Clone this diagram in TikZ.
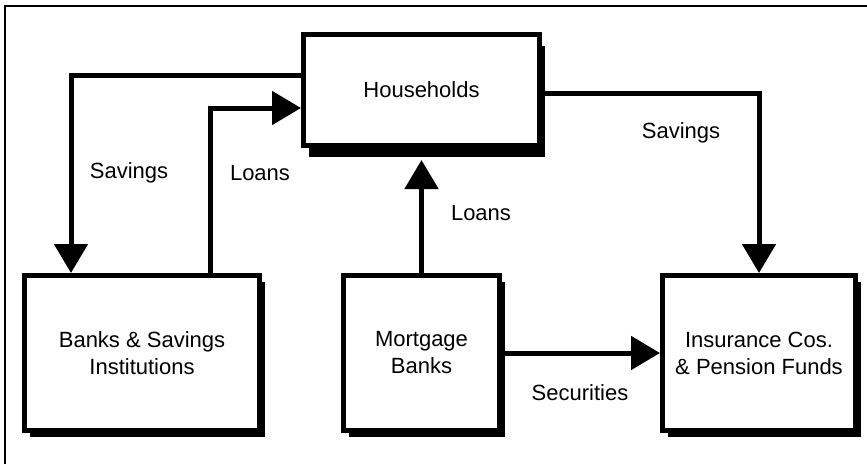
\documentclass[tikz,border=0pt]{standalone}
\usepackage{fontspec}
\setmainfont{Liberation Sans}
\usepackage{tikz}
\usetikzlibrary{arrows.meta, positioning, shadows}

\begin{document}
\begin{tikzpicture}[
    x=1pt, y=-1pt, >={Triangle[length=29pt, width=33pt]},
    box/.style={rectangle, draw=black, fill=white, line width=5pt, align=center, font=\fontsize{22}{27}\selectfont,
      drop shadow={opacity=1, fill=black, shadow xshift=5pt, shadow yshift=#1}},
    box/.default=-6pt,
    line/.style={draw, ->, line width=5pt, black},
    tag/.style={font=\fontsize{22}{27}\selectfont, inner sep=0pt}
  ]
    \useasboundingbox (0,0) rectangle (867,464);
    \draw[line width=2pt] (5,464) |- (867,6);

    \node (banks) [box, minimum width=235pt, minimum height=155pt] at (142,353) {Banks \& Savings\\Institutions};
    \node (mort) [box, minimum width=156pt, minimum height=155pt, right=79pt of banks] {Mortgage\\Banks};
    \node (ins) [box, minimum width=193pt, minimum height=155pt, right=158pt of mort] {Insurance Cos.\\\& Pension Funds};
    \node (house) [box=-11pt, minimum width=236pt, minimum height=111pt, above=125pt of mort] {Households};

    \draw[line] ([yshift=15pt]house.west) -| ([xshift=-71pt]banks.north);
    \draw[line] ([xshift=68pt]banks.north) |- ([yshift=-18pt]house.west);
    \draw[line, shorten >=12pt] (mort.north) -- (house.south);
    \draw[line] ([yshift=-3pt]house.east) -| (ins.north);
    \draw[line] (mort.east) -- (ins.west);

    \node[tag] (savl) at (129,173) {Savings};
    \node[tag] (loanl) at (260,173) {Loans};
    \node[tag] (loanm) at (481,213) {Loans};
    \node[tag] (savr) at (681,133) {Savings};
    \node[tag] (sec) at (580,393) {Securities};
  \end{tikzpicture}
\end{document}
